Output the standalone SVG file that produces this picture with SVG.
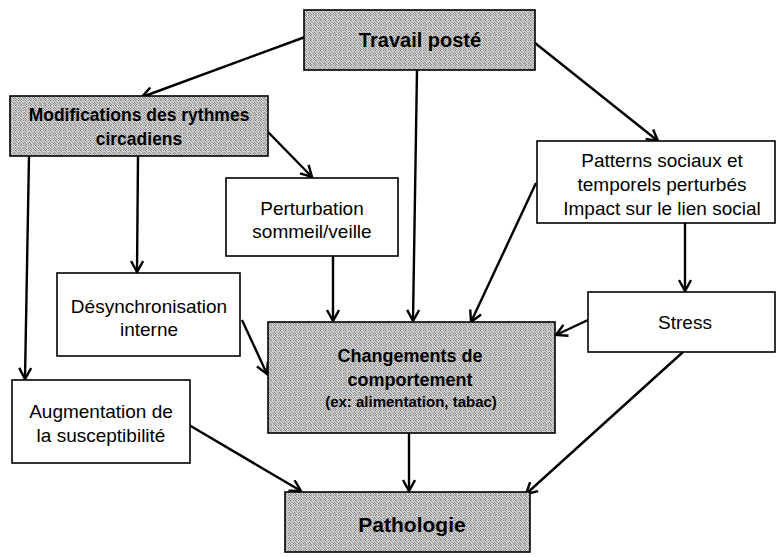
<svg xmlns="http://www.w3.org/2000/svg" width="777" height="557" viewBox="0 0 777 557">
<defs>
<pattern id="stip" width="5" height="5" patternUnits="userSpaceOnUse">
<rect width="5" height="5" fill="#d0d0d0"/>
<rect x="0" y="0" width="1" height="1" fill="#777"/>
<rect x="3" y="0" width="1" height="1" fill="#8c8c8c"/>
<rect x="1" y="1" width="1" height="1" fill="#999"/>
<rect x="4" y="2" width="1" height="1" fill="#7f7f7f"/>
<rect x="2" y="2" width="1" height="1" fill="#a0a0a0"/>
<rect x="0" y="3" width="1" height="1" fill="#929292"/>
<rect x="3" y="3" width="1" height="1" fill="#888"/>
<rect x="1" y="4" width="1" height="1" fill="#858585"/>
<rect x="4" y="4" width="1" height="1" fill="#a5a5a5"/>
</pattern>
<marker id="arr" markerWidth="16" markerHeight="16" refX="12" refY="7" orient="auto" markerUnits="userSpaceOnUse">
<path d="M1,1 L12,7 L1,13" fill="none" stroke="#000" stroke-width="2.4"/>
</marker>
<style>
.g{fill:url(#stip);stroke:#000;stroke-width:1.6}
.w{fill:#fff;stroke:#000;stroke-width:1.6}
.tb{font-family:"Liberation Sans",Arial,sans-serif;font-weight:bold;fill:#000;text-anchor:middle}
.tr{font-family:"Liberation Sans",Arial,sans-serif;fill:#000;text-anchor:middle;font-size:19px}
.c{stroke:#000;stroke-width:2.4;fill:none;marker-end:url(#arr)}
</style>
</defs>
<rect width="777" height="557" fill="#fff"/>
<g id="connectors">
<line class="c" x1="305" y1="37" x2="142" y2="97"/>
<line class="c" x1="417" y1="70" x2="413" y2="321"/>
<line class="c" x1="535" y1="43" x2="658" y2="141"/>
<line class="c" x1="268" y1="132" x2="312" y2="177"/>
<line class="c" x1="138" y1="156" x2="137" y2="272"/>
<line class="c" x1="29" y1="156" x2="25" y2="379"/>
<line class="c" x1="333" y1="256" x2="333" y2="321"/>
<line class="c" x1="242" y1="320" x2="267" y2="374"/>
<line class="c" x1="536" y1="183" x2="471" y2="322"/>
<line class="c" x1="685" y1="223" x2="685" y2="291"/>
<line class="c" x1="588" y1="320" x2="556" y2="335"/>
<line class="c" x1="683" y1="352" x2="526" y2="494"/>
<line class="c" x1="409" y1="433" x2="409" y2="491"/>
<line class="c" x1="189" y1="425" x2="301" y2="491"/>
</g>
<g id="travail">
<rect class="g" x="304" y="10" width="231" height="60"/>
<text class="tb" x="420" y="47" font-size="20">Travail posté</text>
</g>
<g id="modifications">
<rect class="g" x="10" y="96" width="258" height="60"/>
<text class="tb" x="139" y="121" font-size="17.5">Modifications des rythmes</text>
<text class="tb" x="139" y="145" font-size="17.5">circadiens</text>
</g>
<g id="perturbation">
<rect class="w" x="226" y="178" width="172" height="78"/>
<text class="tr" x="312" y="215">Perturbation</text>
<text class="tr" x="312" y="238">sommeil/veille</text>
</g>
<g id="patterns">
<rect class="w" x="537" y="141" width="238" height="82"/>
<text class="tr" x="662" y="167">Patterns sociaux et</text>
<text class="tr" x="662" y="191">temporels perturbés</text>
<text class="tr" x="662" y="215">Impact sur le lien social</text>
</g>
<g id="desynchronisation">
<rect class="w" x="57" y="273" width="183" height="83"/>
<text class="tr" x="149" y="313">Désynchronisation</text>
<text class="tr" x="149" y="336">interne</text>
</g>
<g id="stress">
<rect class="w" x="588" y="292" width="187" height="60"/>
<text class="tr" x="685" y="329">Stress</text>
</g>
<g id="changements">
<rect class="g" x="268" y="322" width="287" height="111"/>
<text class="tb" x="410" y="362" font-size="18">Changements de</text>
<text class="tb" x="410" y="386" font-size="18">comportement</text>
<text class="tb" x="411" y="407" font-size="15">(ex: alimentation, tabac)</text>
</g>
<g id="augmentation">
<rect class="w" x="12" y="380" width="178" height="83"/>
<text class="tr" x="101" y="418">Augmentation de</text>
<text class="tr" x="101" y="442">la susceptibilité</text>
</g>
<g id="pathologie">
<rect class="g" x="285" y="492" width="245" height="60"/>
<text class="tb" x="412" y="532" font-size="21">Pathologie</text>
</g>
</svg>
